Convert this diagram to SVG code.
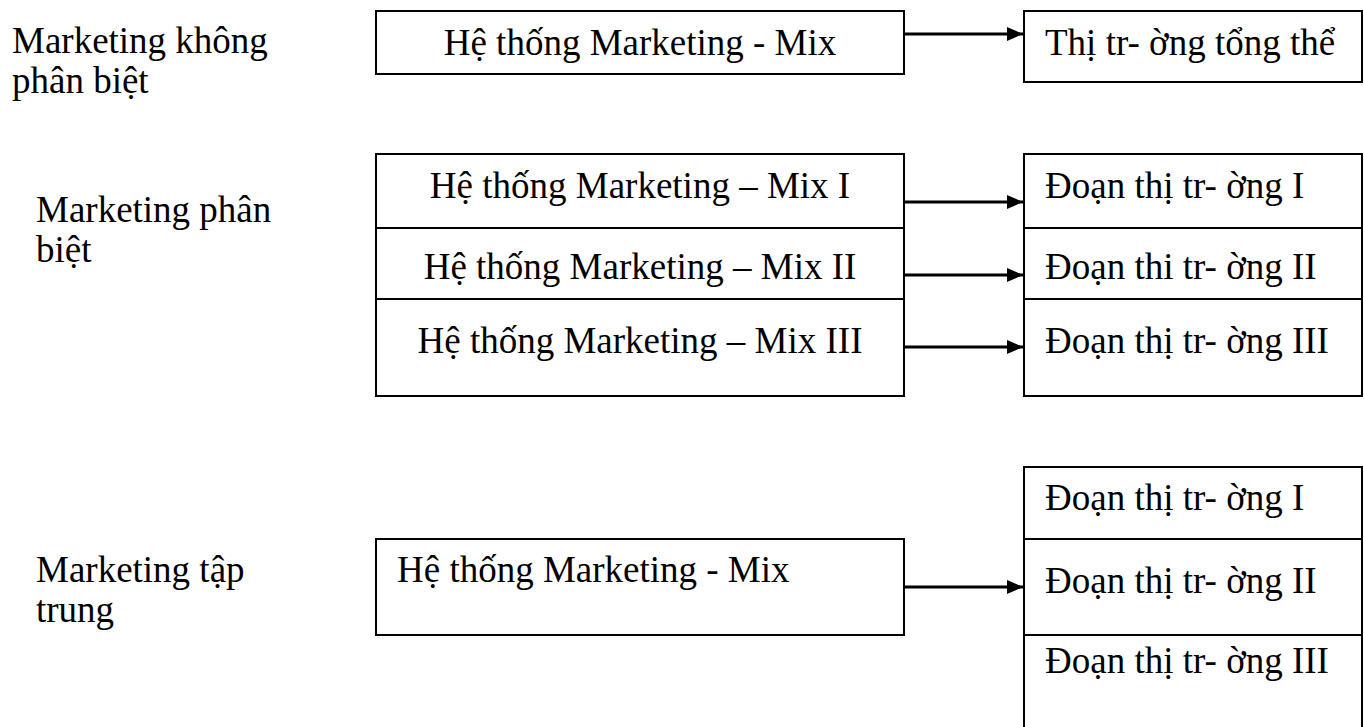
<svg xmlns="http://www.w3.org/2000/svg" width="1364" height="727" viewBox="0 0 1364 727">
  <style>
    .box { fill: #fff; stroke: #000; stroke-width: 2; }
    .div { stroke: #000; stroke-width: 2; fill: none; }
    .t { font-family: "Liberation Serif", "Times New Roman", serif; font-size: 37px; fill: #000; }
    .c { text-anchor: middle; }
    .conn { stroke: #000; stroke-width: 2.8; fill: none; marker-end: url(#arrow); }
  </style>
  <defs>
    <marker id="arrow" markerUnits="userSpaceOnUse" markerWidth="16" markerHeight="14" refX="16" refY="7" orient="auto">
      <path d="M0,0 L16,7 L0,14 Z" fill="#000"/>
    </marker>
  </defs>
  <rect width="1364" height="727" fill="#fff"/>

  <!-- Row labels -->
  <g id="label-undiff">
    <text class="t" x="12" y="53">Marketing không</text>
    <text class="t" x="12" y="93">phân biệt</text>
  </g>
  <g id="label-diff">
    <text class="t" x="36" y="222">Marketing phân</text>
    <text class="t" x="36" y="262">biệt</text>
  </g>
  <g id="label-conc">
    <text class="t" x="36" y="582">Marketing tập</text>
    <text class="t" x="36" y="622">trung</text>
  </g>

  <!-- Undifferentiated -->
  <g id="mix-undiff">
    <rect class="box" x="376" y="11" width="528" height="63"/>
    <text class="t c" x="640" y="55">Hệ thống Marketing - Mix</text>
  </g>
  <g id="market-total">
    <rect class="box" x="1024" y="11" width="338" height="71"/>
    <text class="t" x="1045" y="55">Thị tr- ờng tổng thể</text>
  </g>

  <!-- Differentiated -->
  <g id="mix-diff">
    <rect class="box" x="376" y="154" width="528" height="242"/>
    <line class="div" x1="376" y1="228" x2="904" y2="228"/>
    <line class="div" x1="376" y1="299" x2="904" y2="299"/>
    <text class="t c" x="640" y="198">Hệ thống Marketing – Mix I</text>
    <text class="t c" x="640" y="279">Hệ thống Marketing – Mix II</text>
    <text class="t c" x="640" y="353">Hệ thống Marketing – Mix III</text>
  </g>
  <g id="segments-diff">
    <rect class="box" x="1024" y="154" width="338" height="242"/>
    <line class="div" x1="1024" y1="228" x2="1362" y2="228"/>
    <line class="div" x1="1024" y1="299" x2="1362" y2="299"/>
    <text class="t" x="1045" y="198">Đoạn thị tr- ờng I</text>
    <text class="t" x="1045" y="279">Đoạn thi tr- ờng II</text>
    <text class="t" x="1045" y="353">Đoạn thị tr- ờng III</text>
  </g>

  <!-- Concentrated -->
  <g id="mix-conc">
    <rect class="box" x="376" y="539" width="528" height="96"/>
    <text class="t" x="397" y="582">Hệ thống Marketing - Mix</text>
  </g>
  <g id="segments-conc">
    <rect class="box" x="1024" y="467" width="338" height="270"/>
    <line class="div" x1="1024" y1="539" x2="1362" y2="539"/>
    <line class="div" x1="1024" y1="635" x2="1362" y2="635"/>
    <text class="t" x="1045" y="510">Đoạn thị tr- ờng I</text>
    <text class="t" x="1045" y="593">Đoạn thị tr- ờng II</text>
    <text class="t" x="1045" y="673">Đoạn thị tr- ờng III</text>
  </g>

  <!-- Connectors -->
  <g id="connectors">
    <line class="conn" x1="904" y1="34" x2="1023" y2="34"/>
    <line class="conn" x1="904" y1="202" x2="1023" y2="202"/>
    <line class="conn" x1="904" y1="275" x2="1023" y2="275"/>
    <line class="conn" x1="904" y1="347" x2="1023" y2="347"/>
    <line class="conn" x1="904" y1="587" x2="1023" y2="587"/>
  </g>
</svg>
